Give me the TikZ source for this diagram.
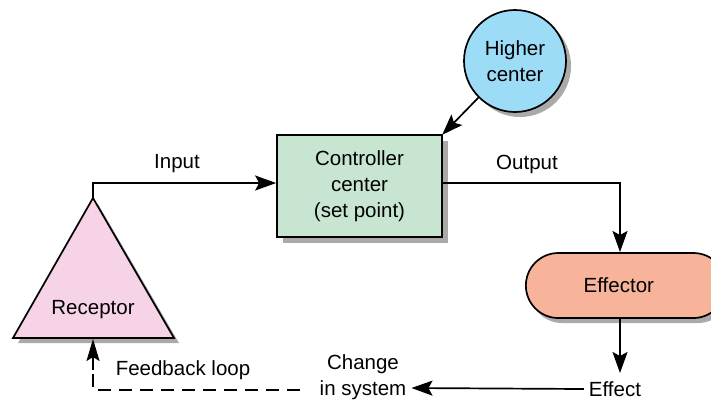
\documentclass[tikz,border=0pt]{standalone}
\usepackage{fontspec}
\setmainfont{Liberation Sans}
\usetikzlibrary{arrows.meta,shapes.misc,calc}
\definecolor{pinkc}{HTML}{F6D3E6}
\definecolor{greenc}{HTML}{C8E5D2}
\definecolor{bluec}{HTML}{9CDCF6}
\definecolor{salmonc}{HTML}{F8B49A}
\definecolor{shadowc}{HTML}{AAAAAA}
\tikzset{
  conn/.style={line width=1.7pt,-{Stealth[length=21pt,width=15pt,inset=4pt]}},
  dconn/.style={line width=1.7pt,dash pattern=on 13pt off 8pt},
  lbl/.style={font=\fontsize{20.5}{26}\selectfont,align=center,inner sep=0pt},
  boxst/.style={draw,line width=1.7pt,font=\fontsize{20.5}{26}\selectfont,align=center},
}
\begin{document}
\begin{tikzpicture}[x=1pt,y=-1pt]
\useasboundingbox (0,0) rectangle (711,400);
% shadows
\fill[shadowc] (18,343) -- (98,204) -- (179,343) -- cycle;
\fill[shadowc] (283,141) rectangle (448,243);
\fill[shadowc] (520,66) circle (51);
\fill[shadowc,rounded corners=32pt] (530,258) rectangle (730,323);
% receptor triangle
\coordinate (apex) at (93,198);
\coordinate (base) at (93,339);
\filldraw[fill=pinkc,line width=1.7pt,line join=miter] (13,338) -- (apex) -- (174,338) -- cycle;
\node[lbl] (rec) at (93,310) {Receptor};
% controller
\node[boxst,fill=greenc,minimum width=165pt,minimum height=102pt,inner sep=0pt] (ctrl) at (359.5,186) {Controller\\center\\(set point)};
% higher center
\node[boxst,circle,fill=bluec,minimum size=102pt,inner sep=0pt] (hc) at (515,61) {Higher\\center};
% effector
\node[boxst,rounded rectangle,fill=salmonc,minimum width=200pt,minimum height=65pt,inner sep=0pt,anchor=west] (eff) at (525,285.5) {\hspace*{-14pt}Effector};
% labels
\node[lbl] (inp) at (177,164) {Input};
\node[lbl] (outp) at (527,164) {Output};
\node[lbl] (effect) at (615,389) {Effect};
\node[lbl] (chg) at (363,377) {Change\\in system};
\node[lbl] (fb) at (183,370) {Feedback loop};
% connectors
\coordinate (c1) at (93,183);
\draw[conn] (apex) -- (c1) -- (ctrl.west |- c1);
\draw[conn,shorten >=-1pt] (hc.225) -- (ctrl.north east);
\coordinate (c2) at (620,183);
\draw[conn] (ctrl.east |- c2) -- (c2) -- (620,252);
\draw[conn] (620,318) -- (620,373);
\draw[conn] (effect.west) ++(-5,0) -- ($(chg.east)+(5,11)$);
\coordinate (d1) at (300,390);
\coordinate (d2) at (93,390);
\draw[dconn] (d1) -- (d2) -- (93,368);
\draw[line width=1.7pt,-{Stealth[length=22pt,width=13pt,inset=4pt]}] (93,370) -- (base);
\end{tikzpicture}
\end{document}
